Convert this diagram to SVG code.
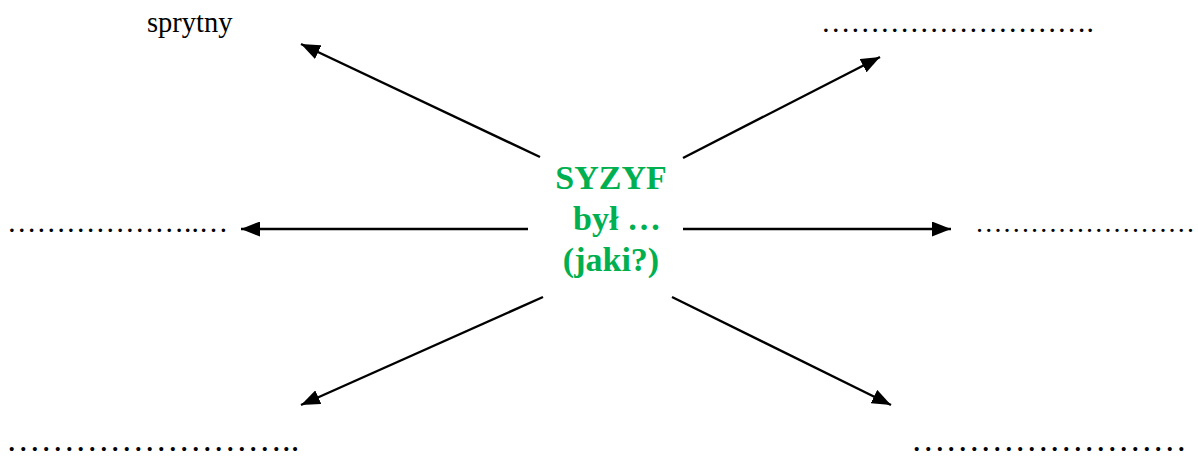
<svg xmlns="http://www.w3.org/2000/svg" width="1198" height="457" viewBox="0 0 1198 457">
  <style>
    .lbl { font-family: "Liberation Serif", "Times New Roman", serif; fill: #000; }
    .dots { font-size: 29.5px; }
    .dotsR { font-size: 27.5px; }
    .dotsL { font-size: 34.5px; }
    .word { font-size: 28.5px; }
    .center { font-family: "Liberation Serif", "Times New Roman", serif; font-weight: bold; font-size: 34px; fill: #00B050; text-anchor: middle; }
    .arrow { stroke: #000; stroke-width: 2.4; fill: none; marker-end: url(#head); }
  </style>
  <defs>
    <marker id="head" markerUnits="userSpaceOnUse" markerWidth="21" markerHeight="15" refX="19" refY="7.5" orient="auto">
      <path d="M0,0 L19,7.5 L0,15 Z" fill="#000"/>
    </marker>
  </defs>
  <rect width="1198" height="457" fill="#fff"/>

  <g id="connectors">
    <line class="arrow" x1="540" y1="157" x2="301" y2="44"/>
    <line class="arrow" x1="683" y1="158" x2="880" y2="57"/>
    <line class="arrow" x1="528" y1="229" x2="241" y2="229"/>
    <line class="arrow" x1="683" y1="229" x2="951" y2="229"/>
    <line class="arrow" x1="543" y1="297" x2="301" y2="405"/>
    <line class="arrow" x1="672" y1="297" x2="891" y2="405"/>
  </g>

  <g id="center">
    <text class="center" x="611" y="189">SYZYF</text>
    <text class="center" x="617" y="230">był …</text>
    <text class="center" x="611" y="271">(jaki?)</text>
  </g>

  <g id="top-left">
    <text class="lbl word" x="147" y="32">sprytny</text>
  </g>
  <g id="top-right">
    <text class="lbl dots" x="821" y="32">……………………….</text>
  </g>
  <g id="middle-left">
    <text class="lbl dots" x="7" y="232">………………..…</text>
  </g>
  <g id="middle-right">
    <text class="lbl dotsR" x="975" y="232">……………………</text>
  </g>
  <g id="bottom-left">
    <text class="lbl dotsL" x="6" y="451">……………………..</text>
  </g>
  <g id="bottom-right">
    <text class="lbl dotsL" x="911" y="451">……………………</text>
  </g>
</svg>
